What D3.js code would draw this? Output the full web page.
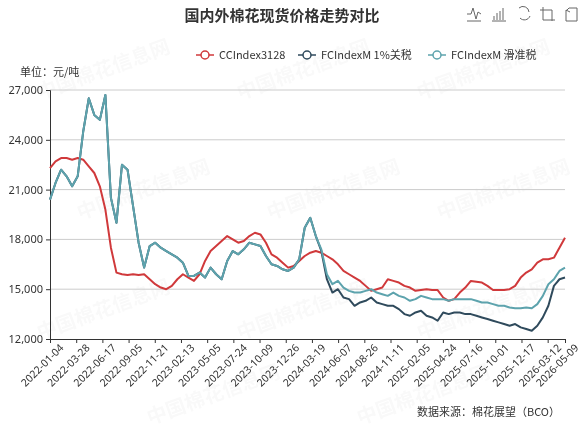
<!DOCTYPE html>
<html><head><meta charset="utf-8">
<script src="https://cdn.jsdelivr.net/npm/d3@7"></script>
<style>body{margin:0;background:#fff;font-family:"Noto Sans CJK SC","Noto Sans",sans-serif}</style>
</head><body><svg id="c" width="585" height="430"></svg>
<script>
const tickLabels=["2022-01-04","2022-03-28","2022-06-17","2022-09-05","2022-11-21","2023-02-13","2023-05-05","2023-07-24","2023-10-09","2023-12-26","2024-03-19","2024-06-07","2024-08-26","2024-11-11","2025-02-05","2025-04-24","2025-07-16","2025-10-01","2025-12-17","2026-03-12","2026-05-09"];
const tickIndex=[0,4.73,9.46,14.19,18.92,23.65,28.38,33.11,37.84,42.57,47.3,52.03,56.76,61.49,66.22,70.95,75.68,80.41,85.14,89.87,93];
const ccIndex=[22300,22700,22900,22900,22800,22900,22800,22400,22000,21200,19800,17500,16000,15900,15850,15900,15850,15900,15600,15300,15100,15000,15200,15600,15900,15700,15500,15900,16700,17300,17600,17900,18200,18000,17800,17900,18200,18400,18300,17800,17100,16900,16600,16300,16400,16700,17000,17200,17300,17200,17000,16800,16500,16100,15900,15700,15500,15200,14900,15000,15100,15600,15500,15400,15200,15100,14900,14950,15000,14950,14950,14500,14300,14400,14800,15100,15500,15450,15400,15200,14950,14950,14950,15000,15200,15700,16000,16200,16600,16800,16800,16900,17500,18100];
const fcSlide=[20400,21400,22200,21800,21200,21800,24500,26500,25500,25200,26700,20500,19000,22500,22200,20000,17800,16300,17600,17800,17500,17300,17100,16900,16600,15800,15800,16000,15700,16300,15900,15600,16700,17300,17100,17400,17800,17700,17600,17000,16500,16400,16200,16100,16300,16800,18700,19300,18200,17400,15900,15300,15500,15100,14900,14800,14800,14900,15000,14800,14700,14600,14800,14600,14500,14300,14400,14600,14500,14400,14400,14400,14300,14400,14400,14400,14400,14300,14200,14200,14100,14000,14000,13900,13850,13850,13900,13850,14100,14600,15300,15600,16100,16300];
const fc1pct=[20400,21400,22200,21800,21200,21800,24500,26500,25500,25200,26700,20500,19000,22500,22200,20000,17800,16300,17600,17800,17500,17300,17100,16900,16600,15800,15800,16000,15700,16300,15900,15600,16700,17300,17100,17400,17800,17700,17600,17000,16500,16400,16200,16100,16300,16800,18700,19300,18200,17300,15600,14800,15000,14500,14400,14000,14200,14300,14500,14200,14100,14000,14000,13800,13500,13400,13600,13700,13400,13300,13100,13600,13500,13600,13600,13500,13500,13400,13300,13200,13100,13000,12900,12800,12900,12700,12600,12500,12800,13300,14000,15200,15600,15700];
const seriesNames=["CCIndex3128","FCIndexM 1%关税","FCIndexM 滑准税"];
const colors=["#d0393b","#2f4a5c","#5da3ad"];
const yTicks=[12000,15000,18000,21000,24000,27000];

const svg=d3.select("#c");
const wm=svg.append("g").attr("fill","#000").attr("opacity",0.025).attr("font-size",20).attr("font-weight","bold");
[[40,100],[240,100],[420,100],[80,220],[270,220],[440,220],[40,340],[240,340],[420,340],[150,425],[360,425]].forEach(p=>{
  wm.append("text").attr("transform",`translate(${p[0]},${p[1]}) rotate(-20)`).text("中国棉花信息网");
});
const x=d3.scaleLinear().domain([0,93]).range([50,565]);
const y=d3.scaleLinear().domain([12000,27000]).range([339,90]);
svg.append("g").selectAll("line").data(yTicks.slice(1)).join("line")
 .attr("x1",50).attr("x2",565).attr("y1",d=>y(d)).attr("y2",d=>y(d)).attr("stroke","#ccc");
const ya=svg.append("g").attr("transform","translate(50,0)").call(d3.axisLeft(y).tickValues(yTicks).tickFormat(d3.format(",")).tickSize(4));
ya.selectAll("text").attr("font-size",11).attr("fill","#333").attr("font-family","Noto Sans");
ya.selectAll("line,path").attr("stroke","#333");
const xa=svg.append("g").attr("transform","translate(0,339)").call(d3.axisBottom(x).tickValues(tickIndex).tickFormat((d,i)=>tickLabels[i]).tickSize(4));
xa.selectAll("line,path").attr("stroke","#333");
xa.selectAll("text").attr("font-size",10.5).attr("fill","#333").attr("font-family","Noto Sans")
 .attr("text-anchor","end").attr("dx","0.3em").attr("dy","0.9em").attr("transform","rotate(-45)");
const line=d3.line().x((d,i)=>x(i)).y(d=>y(d));
[[ccIndex,0],[fc1pct,1],[fcSlide,2]].forEach(([s,ci])=>{
  svg.append("path").datum(s).attr("d",line).attr("fill","none").attr("stroke",colors[ci]).attr("stroke-width",2).attr("stroke-linejoin","round");
});
svg.append("text").attr("x",282).attr("y",21).attr("text-anchor","middle").attr("font-size",15).attr("font-weight","bold").attr("fill","#333").text("国内外棉花现货价格走势对比");
const lx=[196,298,428];
seriesNames.forEach((n,i)=>{
  const g=svg.append("g").attr("transform",`translate(${lx[i]},55)`);
  g.append("line").attr("x1",0).attr("x2",18).attr("stroke",colors[i]).attr("stroke-width",1.5);
  g.append("circle").attr("cx",9).attr("r",4).attr("fill","#fff").attr("stroke",colors[i]).attr("stroke-width",1.5);
  g.append("text").attr("x",23).attr("dy","0.35em").attr("font-size",11).attr("fill","#333").text(n);
});
svg.append("text").attr("x",20).attr("y",76).attr("font-size",11).attr("fill","#333").text("单位：元/吨");
svg.append("text").attr("x",560).attr("y",416).attr("text-anchor","end").attr("font-size",11).attr("fill","#333").text("数据来源：棉花展望（BCO）");
const tb=svg.append("g").attr("fill","none").attr("stroke","#666").attr("stroke-width",1);
tb.append("path").attr("d","M467,14 L471,14 L473,8 L476,19 L478,12 L481,14 M467,21 L481,21");
tb.append("path").attr("d","M492,21 L506,21 M494,20 V16 M497,20 V13 M500,20 V11 M503,20 V8");
tb.append("path").attr("d","M519,8 A6,6 0 0 1 529,12 M530,16 A6,6 0 0 1 520,18");
tb.append("path").attr("d","M543,7 V20 H555 M540,10 H552 V21");
tb.append("path").attr("d","M566,10 V21 H577 V8 H569 M569,8 L566,11 M566,10 L570,12");
</script></body></html>
